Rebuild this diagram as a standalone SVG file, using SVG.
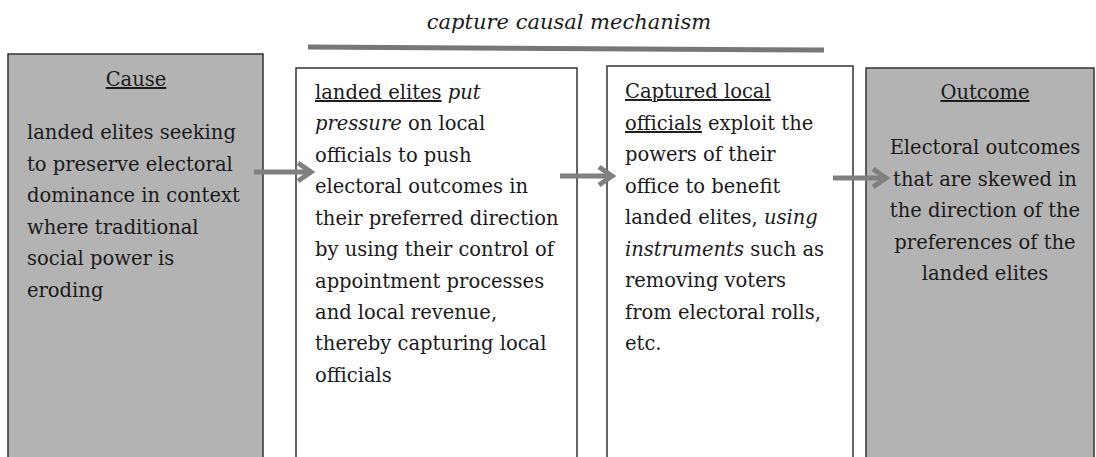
<svg xmlns="http://www.w3.org/2000/svg" width="1096" height="457" viewBox="0 0 1096 457">
<style>
.box{stroke:#333;stroke-width:1.5}
.grey{fill:#b3b3b3}
.white{fill:#fff}
text{font-family:"DejaVu Serif","Liberation Serif",serif;font-size:19.5px;fill:#1a1a1a}
.u{text-decoration:underline}
.i{font-style:italic}
.c{text-anchor:middle}
.t{font-size:21px}
.conn{stroke:#808080;stroke-width:5;fill:none}
</style>
<rect width="1096" height="457" fill="#fff"/>
<g id="title">
<text x="569" y="29" class="i c t">capture causal mechanism</text>
<path d="M308 47 L824 50" stroke="#777" stroke-width="5"/>
</g>
<g id="cause">
<rect class="box grey" x="8" y="54" width="255" height="410"/>
<text x="136" y="86" class="c u">Cause</text>
<text x="27" y="139">landed elites seeking</text>
<text x="27" y="171">to preserve electoral</text>
<text x="27" y="202">dominance in context</text>
<text x="27" y="234">where traditional</text>
<text x="27" y="265">social power is</text>
<text x="27" y="297">eroding</text>
</g>
<g id="step1">
<rect class="box white" x="296" y="68" width="281" height="400"/>
<text x="315" y="99"><tspan class="u">landed elites</tspan> <tspan class="i">put</tspan></text>
<text x="315" y="130"><tspan class="i">pressure</tspan> on local</text>
<text x="315" y="162">officials to push</text>
<text x="315" y="193">electoral outcomes in</text>
<text x="315" y="225">their preferred direction</text>
<text x="315" y="256">by using their control of</text>
<text x="315" y="288">appointment processes</text>
<text x="315" y="319">and local revenue,</text>
<text x="315" y="350">thereby capturing local</text>
<text x="315" y="382">officials</text>
</g>
<g id="step2">
<rect class="box white" x="607" y="66" width="246" height="400"/>
<text x="625" y="98" class="u">Captured local</text>
<text x="625" y="130"><tspan class="u">officials</tspan> exploit the</text>
<text x="625" y="161">powers of their</text>
<text x="625" y="193">office to benefit</text>
<text x="625" y="224">landed elites, <tspan class="i">using</tspan></text>
<text x="625" y="256"><tspan class="i">instruments</tspan> such as</text>
<text x="625" y="287">removing voters</text>
<text x="625" y="319">from electoral rolls,</text>
<text x="625" y="350">etc.</text>
</g>
<g id="outcome">
<rect class="box grey" x="866" y="68" width="228" height="400"/>
<text x="985" y="99" class="c u">Outcome</text>
<text x="985" y="154" class="c">Electoral outcomes</text>
<text x="985" y="186" class="c">that are skewed in</text>
<text x="985" y="217" class="c">the direction of the</text>
<text x="985" y="249" class="c">preferences of the</text>
<text x="985" y="280" class="c">landed elites</text>
</g>
<g id="connectors">
<path class="conn" d="M254 172 H309"/>
<path class="conn" d="M298 163 L311 172 L298 181"/>
<path class="conn" d="M560 176 H610"/>
<path class="conn" d="M599 167 L612 176 L599 185"/>
<path class="conn" d="M833 178 H884"/>
<path class="conn" d="M873 169 L886 178 L873 187"/>
</g>
</svg>
